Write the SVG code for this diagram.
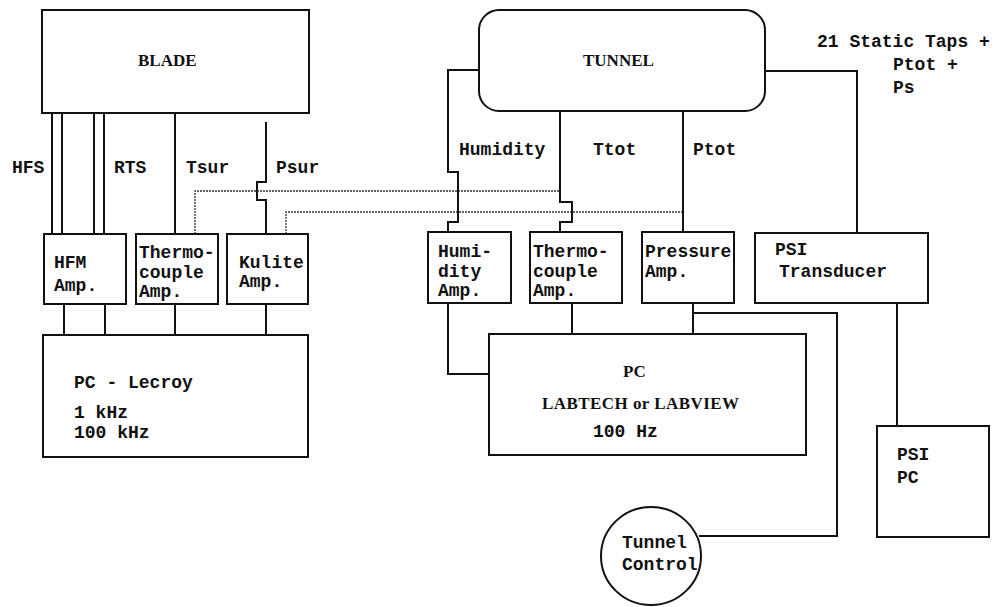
<svg xmlns="http://www.w3.org/2000/svg" width="998" height="607" viewBox="0 0 998 607">
<style>
.box{fill:none;stroke:#111;stroke-width:2}
.ln{fill:none;stroke:#111;stroke-width:2}
.dot{fill:none;stroke:#333;stroke-width:1.3;stroke-dasharray:2 1}
text{font-family:"Liberation Mono","Courier New",monospace;font-size:18px;fill:#111;font-weight:bold}
.serif{font-family:"Liberation Serif","Times New Roman",serif;font-size:17px}
</style>
<rect width="998" height="607" fill="#fff"/>
<g id="connectors">
<path class="ln" d="M52 113V234M62 113V234M94 113V234M104 113V234M175 113V234"/>
<path class="ln" d="M266 122V182H257V200H266V234"/>
<path class="dot" d="M195 234V191H560"/>
<path class="dot" d="M286 234V212H683"/>
<path class="ln" d="M479 70H448V172H458V222H448V232"/>
<path class="ln" d="M560 111V202H572V222H560V232"/>
<path class="ln" d="M683 111V232"/>
<path class="ln" d="M765 71H857V233"/>
<path class="ln" d="M64 304V335M105 304V335M175 304V335M266 304V335"/>
<path class="ln" d="M448 303V374H489"/>
<path class="ln" d="M572 303V334M693 303V334"/>
<path class="ln" d="M693 313H837V536H699"/>
<path class="ln" d="M897 303V426"/>
</g>
<g id="blade"><rect class="box" x="42" y="10" width="267" height="103"/><text class="serif" x="138" y="66">BLADE</text></g>
<g id="tunnel"><rect class="box" x="479" y="10" width="286" height="101" rx="20"/><text class="serif" x="583" y="66">TUNNEL</text></g>
<g id="labels">
<text x="817" y="47">21 Static Taps +</text>
<text x="893" y="70">Ptot +</text>
<text x="893" y="93">Ps</text>
<text x="12" y="173">HFS</text>
<text x="114" y="173">RTS</text>
<text x="186" y="173">Tsur</text>
<text x="276" y="173">Psur</text>
<text x="459" y="155">Humidity</text>
<text x="593" y="155">Ttot</text>
<text x="693" y="155">Ptot</text>
</g>
<g id="hfm-amp"><rect class="box" x="44" y="234" width="82" height="70"/><text x="54" y="268">HFM</text><text x="54" y="291">Amp.</text></g>
<g id="thermo-amp-1"><rect class="box" x="136" y="234" width="82" height="70"/><text x="139" y="258">Thermo-</text><text x="139" y="278">couple</text><text x="139" y="297">Amp.</text></g>
<g id="kulite-amp"><rect class="box" x="227" y="234" width="81" height="70"/><text x="239" y="268">Kulite</text><text x="239" y="287">Amp.</text></g>
<g id="humidity-amp"><rect class="box" x="428" y="232" width="83" height="71"/><text x="438" y="257">Humi-</text><text x="438" y="277">dity</text><text x="438" y="296">Amp.</text></g>
<g id="thermo-amp-2"><rect class="box" x="530" y="232" width="92" height="71"/><text x="533" y="257">Thermo-</text><text x="533" y="277">couple</text><text x="533" y="296">Amp.</text></g>
<g id="pressure-amp"><rect class="box" x="642" y="232" width="92" height="71"/><text x="645" y="257">Pressure</text><text x="645" y="277">Amp.</text></g>
<g id="psi-transducer"><rect class="box" x="755" y="233" width="173" height="70"/><text x="775" y="255">PSI</text><text x="779" y="277">Transducer</text></g>
<g id="pc-lecroy"><rect class="box" x="43" y="335" width="265" height="122"/><text x="74" y="388">PC - Lecroy</text><text x="74" y="418">1 kHz</text><text x="74" y="438">100 kHz</text></g>
<g id="pc-labtech"><rect class="box" x="489" y="334" width="317" height="121"/><text class="serif" x="623" y="377">PC</text><text class="serif" x="542" y="409" textLength="197" lengthAdjust="spacing">LABTECH or LABVIEW</text><text x="593" y="437">100 Hz</text></g>
<g id="psi-pc"><rect class="box" x="877" y="426" width="112" height="111"/><text x="897" y="460">PSI</text><text x="897" y="483">PC</text></g>
<g id="tunnel-control"><ellipse class="box" cx="651" cy="556" rx="50" ry="49"/><text x="622" y="548">Tunnel</text><text x="622" y="570">Control</text></g>
</svg>
